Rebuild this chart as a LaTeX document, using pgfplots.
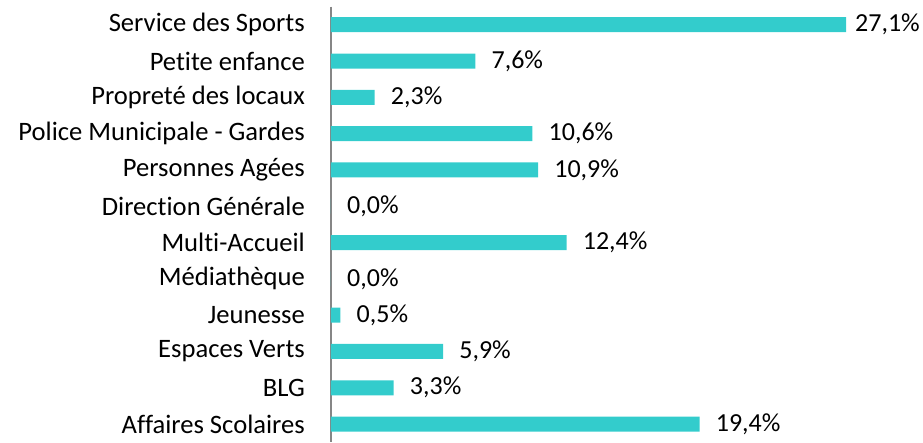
\documentclass[border=0pt]{standalone}
\usepackage{pgfplots}
\pgfplotsset{compat=1.18}
\usepackage{fontspec}
\setmainfont{Carlito}[Ligatures=NoCommon, RawFeature={-liga}]
\definecolor{barc}{HTML}{33CCCC}
\definecolor{axc}{HTML}{868686}
\begin{document}
\fontsize{26.6}{30}\selectfont
\begin{tikzpicture}
\begin{axis}[
  name=ax,
  scale only axis,
  width=515pt, height=435.6pt,
  xmin=0, xmax=27.1,
  ymin=-0.5, ymax=11.5,
  y dir=reverse,
  axis x line=none,
  axis y line*=left,
  y axis line style={draw=axc, line width=1.3pt},
  ytick={0,...,11},
  yticklabels={Service des Sports, Petite enfance, Propreté des locaux, Police Municipale - Gardes, Personnes Agées, Direction Générale, Multi-Accueil, Médiathèque, Jeunesse, Espaces Verts, BLG, Affaires Scolaires},
  major tick length=0pt,
  yticklabel style={anchor=east, inner sep=0pt, xshift=-26pt, font=\fontsize{26.6}{30}\selectfont, text=black},
  xbar, bar width=15pt,
  clip=false,
  point meta=x,
  /pgf/number format/assume math mode=true,
  nodes near coords={\pgfmathprintnumber[fixed, fixed zerofill, precision=1, use comma, assume math mode=true]{\pgfplotspointmeta}\%},
  nodes near coords style={anchor=west, inner sep=0pt, xshift=16pt, font=\fontsize{26}{30}\selectfont, text=black},
  coordinate style/.condition={\pgfkeysvalueof{/data point/x} > 20}{xshift=-7pt},
]
\addplot[fill=barc, draw=none] coordinates {
(27.1,0) (7.6,1) (2.3,2) (10.6,3) (10.9,4) (0.0,5) (12.4,6) (0.0,7) (0.5,8) (5.9,9) (3.3,10) (19.4,11)
};
\end{axis}
\path[use as bounding box] ([shift={(-331pt,6.6pt)}]ax.north west) rectangle ([shift={(77pt,-429.4pt)}]ax.north east);
\end{tikzpicture}
\end{document}
